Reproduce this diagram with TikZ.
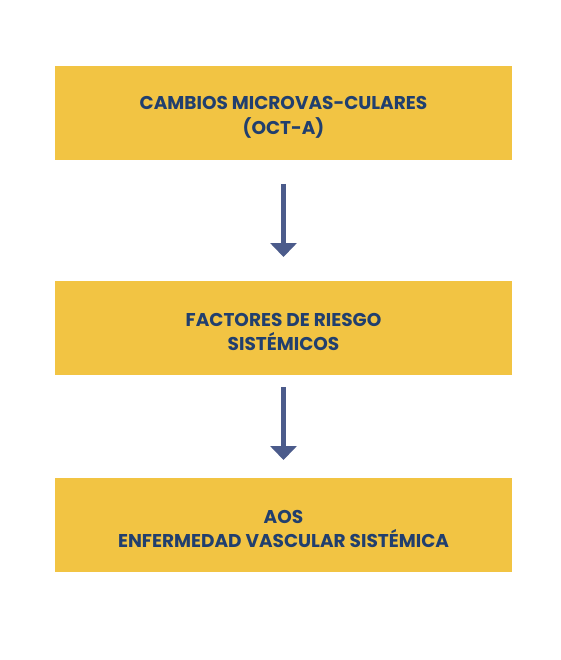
\documentclass[tikz,border=0pt]{standalone}
\usepackage{fontspec}
\setmainfont{Poppins}
\usetikzlibrary{arrows.meta}
\definecolor{boxfill}{HTML}{F2C443}
\definecolor{txt}{HTML}{213F6E}
\definecolor{arr}{HTML}{4B5B8B}
\tikzset{
  box/.style={fill=boxfill, draw=none, minimum width=457pt, minimum height=94pt, inner sep=0pt},
  lbl/.style={inner sep=0pt, align=center, text=txt, font=\fontsize{18.5}{24.5}\selectfont\bfseries},
  flow/.style={draw=arr, line width=4.5pt, -{Triangle[width=26pt,length=14pt]}, shorten >=0pt}
}
\begin{document}
\begin{tikzpicture}[x=1pt,y=1pt]
\useasboundingbox[fill=white] (0,0) rectangle (560,-660);
\node[box] (b1) at (283.5,-113) {};
\node[box] (b2) at (283.5,-327.5) {};
\node[box] (b3) at (283.5,-524.5) {};
\node[lbl] (t1) at ([yshift=-4.5pt]b1.center) {CAMBIOS MICROVAS-CULARES\\(OCT-A)};
\node[lbl] (t2) at ([yshift=-4.5pt]b2.center) {FACTORES DE RIESGO\\SISTÉMICOS};
\node[lbl] (t3) at ([yshift=-4.5pt]b3.center) {AOS\\ENFERMEDAD VASCULAR SISTÉMICA};
\coordinate (a1s) at (283.5,-184);
\coordinate (a1e) at (283.5,-257);
\coordinate (a2s) at (283.5,-387);
\coordinate (a2e) at (283.5,-460);
\draw[flow] (a1s) -- (a1e);
\draw[flow] (a2s) -- (a2e);
\end{tikzpicture}
\end{document}
